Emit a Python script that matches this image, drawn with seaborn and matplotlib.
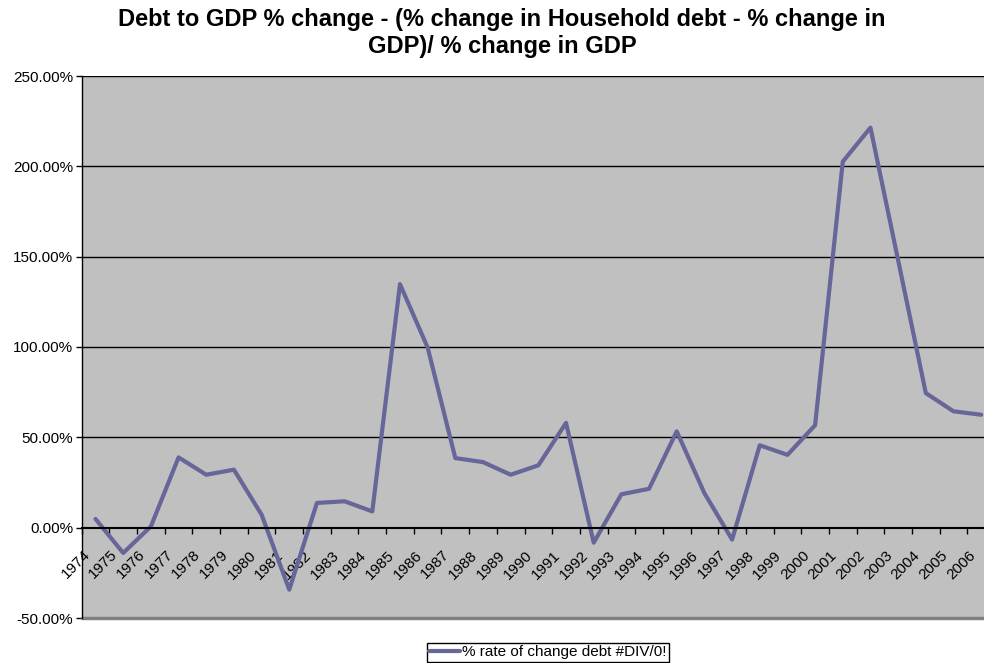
import numpy as np
import pandas as pd
import seaborn as sns
import matplotlib
matplotlib.use("Agg")
import matplotlib.pyplot as plt
import matplotlib.transforms as mtransforms
from matplotlib.ticker import FuncFormatter, FixedLocator

years = [str(y) for y in range(1974, 2007)]
values = [4.8, -14.0, 0.7, 38.9, 29.3, 32.1, 7.2, -34.3, 13.7, 14.6, 9.0,
          134.8, 99.7, 38.5, 36.3, 29.3, 34.5, 58.0, -8.3, 18.5, 21.5,
          53.3, 19.1, -6.6, 45.6, 40.3, 56.7, 202.6, 221.4, 148.0, 74.5,
          64.4, 62.5]
series_name = "% rate of change debt #DIV/0!"
title = "Debt to GDP % change - (% change in Household debt - % change in\nGDP)/ % change in GDP"
yticks = [-50, 0, 50, 100, 150, 200, 250]

sns.set_style("white")
plt.rcParams['font.family'] = ['Liberation Sans', 'DejaVu Sans']
plt.rcParams['text.color'] = 'black'
plt.rcParams['axes.labelcolor'] = 'black'
plt.rcParams['xtick.color'] = 'black'
plt.rcParams['ytick.color'] = 'black'
plt.rcParams['xtick.labelcolor'] = 'black'
plt.rcParams['ytick.labelcolor'] = 'black'

fig = plt.figure(figsize=(9.84, 6.63), dpi=100)
left_px, right_px, top_px, bot_px = 81.7, 995.0, 76.0, 618.0
W, H = 984.0, 663.0
ax = fig.add_axes([left_px / W, 1 - bot_px / H, (right_px - left_px) / W, (bot_px - top_px) / H])
ax.set_facecolor("#C0C0C0")

df = pd.DataFrame({"pos": np.arange(len(years)), "val": values, "series": series_name})
sns.lineplot(data=df, x="pos", y="val", hue="series", palette=["#666699"],
             linewidth=3.0, ax=ax, legend=True)

ax.set_xlim(-0.5, len(years) - 0.5)
ax.set_ylim(-50, 250)

# y axis
ax.yaxis.set_major_locator(FixedLocator(yticks))
ax.yaxis.set_major_formatter(FuncFormatter(lambda v, p: f"{v:.2f}%"))
ax.tick_params(axis='y', which='major', direction='out', length=4, width=1,
               color='black', labelcolor='black', labelsize=11, pad=2, left=True)
for yv in yticks[2:]:
    ax.axhline(yv, color='black', linewidth=1.0, zorder=1)
ax.axhline(-50, color='#808080', linewidth=2.5, zorder=1, clip_on=False)

# x axis at zero
ax.spines['bottom'].set_position(('data', 0))
ax.spines['bottom'].set_color('black')
ax.spines['bottom'].set_linewidth(1.5)
ax.spines['left'].set_color('black')
ax.spines['left'].set_linewidth(1.0)
ax.spines['top'].set_visible(False)
ax.spines['right'].set_visible(False)

ax.xaxis.set_major_locator(FixedLocator(np.arange(len(years) + 1) - 0.5))
ax.xaxis.set_minor_locator(FixedLocator(np.arange(len(years))))
ax.tick_params(axis='x', which='major', direction='out', length=4, width=1,
               color='black', labelbottom=False, bottom=True)
ax.tick_params(axis='x', which='minor', length=0, pad=18, labelsize=11,
               labelcolor='black', bottom=True)
ax.set_xticklabels(years, minor=True)
offset = mtransforms.ScaledTranslation(-8 / 100, 0, fig.dpi_scale_trans)
for lab in ax.get_xticklabels(minor=True):
    lab.set_rotation(45)
    lab.set_ha('right')
    lab.set_va('center')
    lab.set_rotation_mode('anchor')
    lab.set_transform(lab.get_transform() + offset)

ax.set_xlabel("")
ax.set_ylabel("")

leg = ax.get_legend()
if leg is not None:
    leg.remove()
handles, labels = ax.get_legend_handles_labels()
fig.legend(handles, labels, loc='upper left', bbox_to_anchor=(427 / W, 1 - 643 / H),
           frameon=True, fancybox=False, edgecolor='black', facecolor='white',
           fontsize=11, handlelength=2.0, handletextpad=0.15, borderpad=0.15,
           borderaxespad=0, framealpha=1)

fig.text(502 / W, 1 - 8 / H, title, ha='center', va='top', fontsize=17,
         fontweight='bold', linespacing=1.25, color='black')

fig.savefig("out.png", dpi=100)
